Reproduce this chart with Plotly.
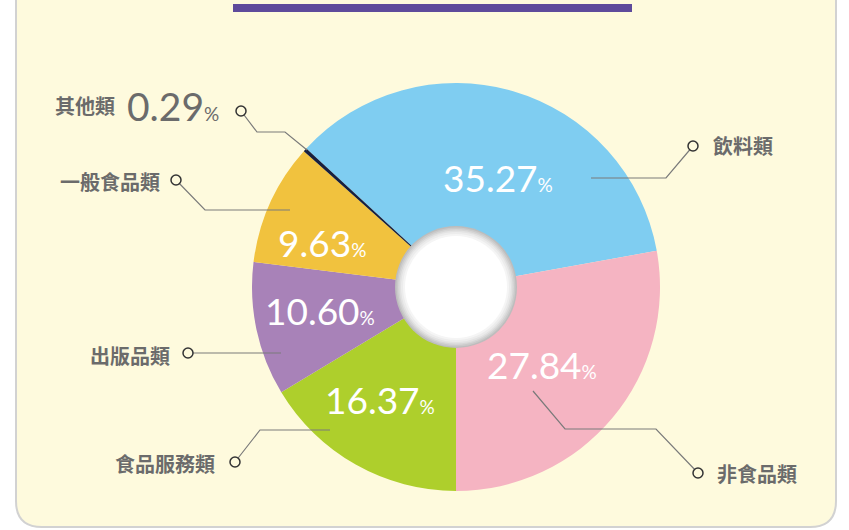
import plotly.graph_objects as go

W, H = 849, 530

categories = ["飲料類", "非食品類", "食品服務類", "出版品類", "一般食品類", "其他類"]
values = [35.27, 27.84, 16.37, 10.60, 9.63, 0.29]
colors = ["#7FCDF1", "#F5B4C2", "#AECF2C", "#A882B8", "#F1C23E", "#17203F"]

BG = "#FEFADD"
LABEL_COLOR = "#6B6B6B"
NUM_FONT = "Lato, Open Sans, sans-serif"
CJK_FONT = "Noto Sans CJK TC, sans-serif"


def px(x):
    return x / W


def py(y):
    return 1 - y / H


fig = go.Figure(
    go.Pie(
        labels=categories,
        values=values,
        sort=False,
        direction="clockwise",
        rotation=-47.2,
        hole=0.29,
        marker=dict(colors=colors, line=dict(width=0)),
        textinfo="none",
        showlegend=False,
        hoverinfo="label+percent",
        domain=dict(x=[px(252), px(660)], y=[py(491), py(83)]),
    )
)

shapes = []
# panel
r = 26
L, R, B, T = 16, 836, 527, -20
path = (
    f"M {px(L)},{py(T)} L {px(L)},{py(B - r)} Q {px(L)},{py(B)} {px(L + r)},{py(B)} "
    f"L {px(R - r)},{py(B)} Q {px(R)},{py(B)} {px(R)},{py(B - r)} L {px(R)},{py(T)} Z"
)
shapes.append(dict(type="path", xref="paper", yref="paper", path=path,
                   fillcolor=BG, line=dict(color="#D2D2D2", width=2), layer="below"))
# title bar
shapes.append(dict(type="rect", xref="paper", yref="paper", x0=px(233), x1=px(632),
                   y0=py(12), y1=py(4), fillcolor="#5E4A9B", line=dict(width=0)))

# center disc with soft shade
cx, cy = 456, 287
shades = [(61, "#BDBDBD"), (59.5, "#CACACA"), (58, "#D6D6D6"), (56.5, "#E2E2E2"),
          (55, "#ECECEC"), (53, "#F5F5F5"), (51, "#FFFFFF")]
for rad, col in shades:
    shapes.append(dict(type="circle", xref="paper", yref="paper",
                       x0=px(cx - rad), x1=px(cx + rad), y0=py(cy + rad), y1=py(cy - rad),
                       fillcolor=col, line=dict(width=0), layer="above"))

# leader lines
leaders = [
    [(241, 111), (257, 132), (285, 132), (307, 150)],
    [(176, 180), (205, 210), (290, 210)],
    [(693, 146), (666, 178), (591, 178)],
    [(188, 353), (281, 353)],
    [(235, 462), (260, 430), (330, 430)],
    [(698, 473), (656, 429), (565, 429), (533, 391)],
]
for pts in leaders:
    p = "M " + " L ".join(f"{px(x)},{py(y)}" for x, y in pts)
    shapes.append(dict(type="path", xref="paper", yref="paper", path=p,
                       line=dict(color="#7A7A7A", width=1.2)))
for pts in leaders:
    x, y = pts[0]
    rr = 5
    shapes.append(dict(type="circle", xref="paper", yref="paper",
                       x0=px(x - rr), x1=px(x + rr), y0=py(y + rr), y1=py(y - rr),
                       fillcolor=BG, line=dict(color="#333333", width=1.5)))

annotations = []

# percentage labels inside slices (left edge x, digit centre y)
pct_pos = [(443, 176), (487, 362), (325, 397), (265, 308), (278, 240), None]
for v, pos in zip(values, pct_pos):
    if pos is None:
        continue
    x, y = pos
    annotations.append(dict(xref="paper", yref="paper", x=px(x - 2), y=py(y + 2),
                            text=f"{v:.2f}<span style='font-size:19px'>%</span>",
                            xanchor="left", yanchor="middle", showarrow=False,
                            font=dict(family=NUM_FONT, size=37, color="white")))

label_pos = {
    "飲料類": (711, 146, "left"),
    "非食品類": (715, 473, "left"),
    "食品服務類": (217, 463, "right"),
    "出版品類": (172, 355, "right"),
    "一般食品類": (162, 181, "right"),
}
for name, (x, y, anc) in label_pos.items():
    annotations.append(dict(xref="paper", yref="paper", x=px(x), y=py(y), text=f"<b>{name}</b>",
                            xanchor=anc, yanchor="middle", showarrow=False,
                            font=dict(family=CJK_FONT, size=20, color=LABEL_COLOR)))
other_name = categories[-1]
other_val = values[-1]
annotations.append(dict(xref="paper", yref="paper", x=px(117), y=py(106),
                        text=f"<b>{other_name}</b>", xanchor="right", yanchor="middle",
                        showarrow=False, font=dict(family=CJK_FONT, size=20, color=LABEL_COLOR)))
annotations.append(dict(xref="paper", yref="paper", x=px(125), y=py(106),
                        text=f"{other_val:.2f}<span style='font-size:19px'>%</span>",
                        xanchor="left", yanchor="middle", showarrow=False,
                        font=dict(family=NUM_FONT, size=39, color=LABEL_COLOR)))

fig.update_layout(
    width=W, height=H,
    margin=dict(l=0, r=0, t=0, b=0),
    paper_bgcolor="white",
    plot_bgcolor="white",
    shapes=shapes,
    annotations=annotations,
)

fig.write_html("out.html", config={"displayModeBar": False},
               post_script="document.body.style.margin='0px';")
